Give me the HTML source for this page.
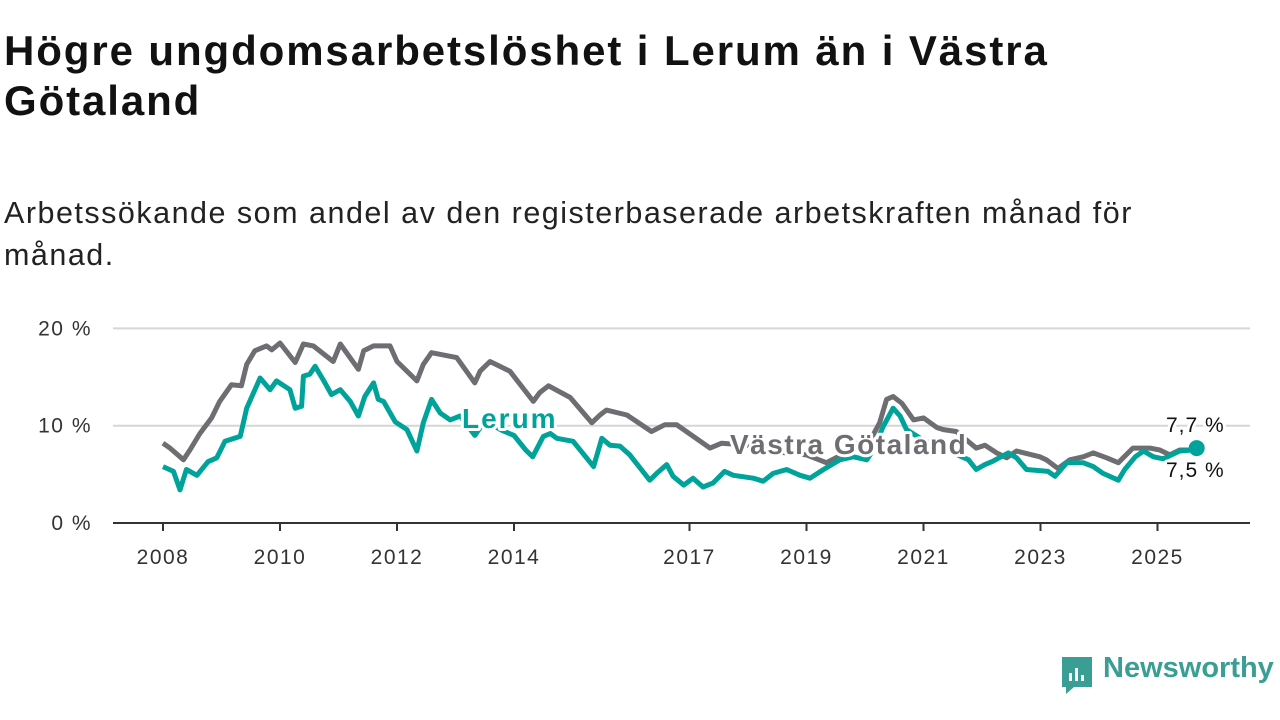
<!DOCTYPE html>
<html><head><meta charset="utf-8">
<style>
body{margin:0;width:1280px;height:720px;background:#fff;overflow:hidden;font-family:"Liberation Sans",sans-serif;color:#111}
h1{position:absolute;left:4px;top:26px;margin:0;font-size:42px;line-height:50px;font-weight:bold;width:1270px;letter-spacing:1.9px;white-space:nowrap}
p.sub{position:absolute;left:4px;top:192px;margin:0;font-size:30.5px;line-height:42px;width:1270px;color:#222;letter-spacing:1.5px;white-space:nowrap}
svg{position:absolute;left:0;top:0}
.logo{position:absolute;left:1060px;top:655px;width:34px;height:40px}
.logotext{position:absolute;left:1103px;top:652px;font-size:29px;font-weight:bold;color:#3a9e95}
</style></head><body>
<h1>Högre ungdomsarbetslöshet i Lerum än i Västra<br>Götaland</h1>
<p class="sub">Arbetssökande som andel av den registerbaserade arbetskraften månad för<br>månad.</p>
<svg id="chart" width="1280" height="720"></svg>
<svg class="logo" viewBox="0 0 34 40">
<path d="M2 2h30v30H14l-8 7v-7H2z" fill="#3a9e95"/><rect x="9" y="18" width="3" height="8" fill="#fff"/><rect x="15" y="13" width="3" height="13" fill="#fff"/><rect x="21" y="20" width="3" height="6" fill="#fff"/>
</svg>
<div class="logotext">Newsworthy</div>
<script>
const lerumDates=[2008.0,2008.18,2008.29,2008.4,2008.58,2008.77,2008.92,2009.06,2009.32,2009.43,2009.66,2009.83,2009.94,2010.17,2010.26,2010.37,2010.4,2010.51,2010.6,2010.74,2010.88,2011.03,2011.2,2011.34,2011.45,2011.6,2011.68,2011.77,2011.97,2012.17,2012.34,2012.45,2012.59,2012.74,2012.91,2013.08,2013.33,2013.5,2013.8,2014.0,2014.2,2014.32,2014.5,2014.62,2014.73,2015.01,2015.36,2015.5,2015.64,2015.81,2015.98,2016.32,2016.44,2016.61,2016.72,2016.9,2017.06,2017.23,2017.4,2017.6,2017.75,2018.09,2018.26,2018.43,2018.66,2018.89,2019.06,2019.29,2019.57,2019.8,2020.03,2020.14,2020.31,2020.48,2020.6,2020.71,2021.0,2021.4,2021.77,2021.9,2022.05,2022.17,2022.45,2022.59,2022.76,2023.13,2023.25,2023.45,2023.73,2023.9,2024.07,2024.33,2024.44,2024.62,2024.76,2024.93,2025.1,2025.38,2025.6,2025.67];
const lerumValues=[5.8,5.3,3.4,5.5,4.9,6.3,6.7,8.4,8.9,11.8,14.9,13.7,14.6,13.7,11.8,12.0,15.1,15.3,16.1,14.7,13.2,13.7,12.5,11.0,13.0,14.4,12.7,12.5,10.4,9.6,7.4,10.3,12.7,11.3,10.6,11.0,9.0,10.5,9.5,9.0,7.5,6.8,8.9,9.2,8.7,8.4,5.8,8.7,8.0,7.9,7.0,4.4,5.1,6.0,4.8,3.9,4.6,3.7,4.1,5.3,4.9,4.6,4.3,5.1,5.5,4.9,4.6,5.5,6.5,6.8,6.5,7.5,9.9,11.8,11.0,9.6,8.5,7.5,6.5,5.5,6.0,6.3,7.2,6.7,5.5,5.3,4.8,6.2,6.2,5.8,5.1,4.4,5.5,6.8,7.4,6.8,6.6,7.4,7.5,7.7];
const vgDates=[2008.0,2008.12,2008.35,2008.46,2008.63,2008.83,2008.97,2009.17,2009.34,2009.43,2009.57,2009.77,2009.86,2010.0,2010.26,2010.4,2010.57,2010.91,2011.03,2011.34,2011.43,2011.6,2011.88,2012.0,2012.34,2012.45,2012.59,2013.02,2013.33,2013.42,2013.59,2013.93,2014.33,2014.44,2014.59,2014.96,2015.33,2015.47,2015.58,2015.93,2016.35,2016.58,2016.78,2017.35,2017.55,2018.0,2018.5,2019.0,2019.34,2019.6,2019.9,2020.1,2020.25,2020.37,2020.48,2020.63,2020.83,2021.0,2021.23,2021.34,2021.56,2021.9,2022.05,2022.25,2022.42,2022.59,2022.99,2023.1,2023.3,2023.5,2023.73,2023.9,2024.13,2024.33,2024.58,2024.87,2025.04,2025.21,2025.38,2025.5,2025.67];
const vgValues=[8.2,7.7,6.5,7.5,9.2,10.8,12.5,14.2,14.1,16.3,17.7,18.2,17.8,18.5,16.5,18.4,18.2,16.6,18.4,15.8,17.7,18.2,18.2,16.6,14.6,16.3,17.5,17.0,14.4,15.6,16.6,15.6,12.5,13.4,14.1,12.9,10.3,11.1,11.6,11.1,9.4,10.1,10.1,7.7,8.2,8.0,7.3,7.0,6.2,7.0,8.3,8.6,10.3,12.7,13.0,12.3,10.6,10.8,9.8,9.6,9.4,7.7,8.0,7.2,6.7,7.4,6.8,6.5,5.6,6.5,6.8,7.2,6.7,6.2,7.7,7.7,7.5,7.0,7.5,7.5,7.5];
const yTicks=[0,10,20];
const yTickLabels=["0 %","10 %","20 %"];
const xTicks=[2008,2010,2012,2014,2017,2019,2021,2023,2025];
const NS="http://www.w3.org/2000/svg";
const svg=document.getElementById('chart');
const x=v=>163+(v-2008)*58.5;
const y=v=>523-v*9.73;
function mk(tag,attrs,parent){const e=document.createElementNS(NS,tag);for(const k in attrs)e.setAttribute(k,attrs[k]);(parent||svg).appendChild(e);return e;}
yTicks.forEach((t,i)=>{
  if(t>0){const g=mk('line',{x1:113,x2:1250,y1:y(t),y2:y(t),stroke:'#d6d6d6','stroke-width':2});
  
  }
  const l=mk('text',{x:92,y:y(t)+7,'text-anchor':'end','font-size':21,fill:'#333','letter-spacing':1.5});
  l.textContent=yTickLabels[i];
  
  
});
const ax=mk('line',{x1:113,x2:1250,y1:523,y2:523,stroke:'#333','stroke-width':2});


xTicks.forEach(t=>{
  const tk=mk('line',{x1:x(t),x2:x(t),y1:523,y2:531,stroke:'#333','stroke-width':2});
  
  
  const l=mk('text',{x:x(t),y:564,'text-anchor':'middle','font-size':21,fill:'#333','letter-spacing':1.5});
  l.textContent=t;
  
  
});
function line(ds,vs,color,name){
  const d=ds.map((t,i)=>(i?'L':'M')+x(t).toFixed(1)+' '+y(vs[i]).toFixed(1)).join('');
  const p=mk('path',{d:d,fill:'none',stroke:color,'stroke-width':5,'stroke-linejoin':'round'});
  
  
}
line(vgDates,vgValues,'#6e6d72','line-vastra-gotaland');
line(lerumDates,lerumValues,'#00a39a','line-lerum');
const lx=lerumDates[lerumDates.length-1],lv=lerumValues[lerumValues.length-1];
const dot=mk('circle',{cx:x(lx),cy:y(lv),r:8,fill:'#00a39a'});


function label(txt,xx,yy,size,color,weight,ls,name){
  const t=mk('text',{x:xx,y:yy,'font-size':size,fill:color,'font-weight':weight,'letter-spacing':ls,stroke:'#fff','stroke-width':6,'paint-order':'stroke','stroke-linejoin':'round'});
  t.textContent=txt;
  
  
}
label('Lerum',462,428,28,'#00a39a','bold',2,'series-label-lerum');
label('Västra Götaland',730,454,28,'#6e6d72','bold',1.5,'series-label-vastra-gotaland');
label('7,7 %',1166,432,21,'#111','normal',1,'end-value-lerum');
label('7,5 %',1166,477,21,'#111','normal',1,'end-value-vastra-gotaland');
</script>
</body></html>
